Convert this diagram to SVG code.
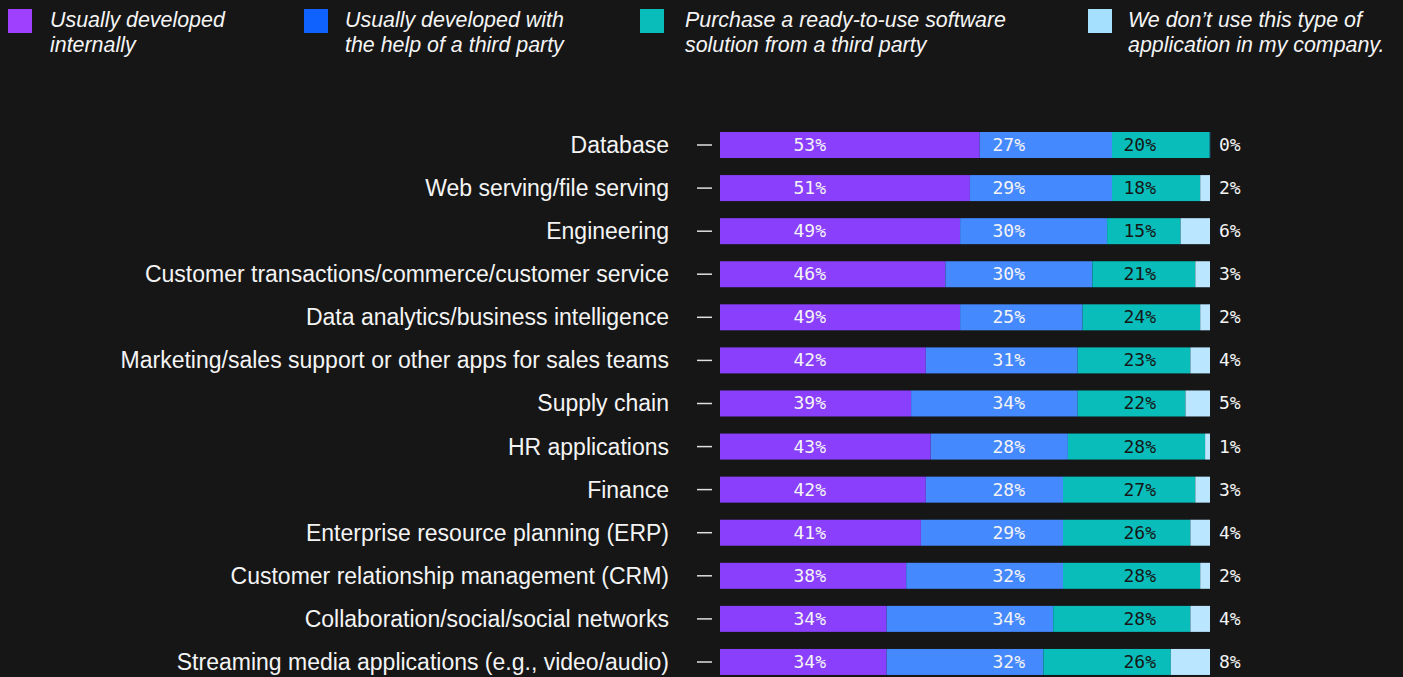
<svg xmlns="http://www.w3.org/2000/svg" width="1403" height="677" viewBox="0 0 1403 677">
<style>
.bg{fill:#161616}
.lg{font-family:"Liberation Sans",Arial,sans-serif;font-style:italic;font-size:21.4px;fill:#f4f4f4}
.lab{font-family:"Liberation Sans",Arial,sans-serif;font-size:23px;fill:#f4f4f4;text-anchor:end}
.v{font-family:"DejaVu Sans Mono",monospace;font-size:18px;fill:#f4f4f4;text-anchor:end}
.vd{font-family:"DejaVu Sans Mono",monospace;font-size:18px;fill:#161616;text-anchor:end}
.vr{font-family:"DejaVu Sans Mono",monospace;font-size:18px;fill:#f4f4f4}
.p{fill:#8a3ffc}.b{fill:#4589ff}.t{fill:#08bdba}.l{fill:#bae6ff}
.tick{stroke:#e0e0e0;stroke-width:1.5}
</style>
<rect class="bg" x="0" y="0" width="1403" height="677"/>
<g id="legend">
<g id="legend-internal"><rect x="8" y="9" width="24" height="24" fill="#a040ff"/><text class="lg" x="50" y="27">Usually developed</text><text class="lg" x="50" y="52">internally</text></g>
<g id="legend-thirdparty"><rect x="304" y="9" width="24" height="24" fill="#0f62fe"/><text class="lg" x="345" y="27">Usually developed with</text><text class="lg" x="345" y="52">the help of a third party</text></g>
<g id="legend-purchase"><rect x="640" y="9" width="24" height="24" fill="#08bdba"/><text class="lg" x="685" y="27">Purchase a ready-to-use software</text><text class="lg" x="685" y="52">solution from a third party</text></g>
<g id="legend-none"><rect x="1088" y="9" width="24" height="24" fill="#a6e0ff"/><text class="lg" x="1128" y="27">We don’t use this type of</text><text class="lg" x="1128" y="52">application in my company.</text></g>
</g>
<g id="connectors">
<line class="tick" x1="697" y1="145" x2="712" y2="145"/>
<line class="tick" x1="697" y1="188.1" x2="712" y2="188.1"/>
<line class="tick" x1="697" y1="231.2" x2="712" y2="231.2"/>
<line class="tick" x1="697" y1="274.2" x2="712" y2="274.2"/>
<line class="tick" x1="697" y1="317.3" x2="712" y2="317.3"/>
<line class="tick" x1="697" y1="360.4" x2="712" y2="360.4"/>
<line class="tick" x1="697" y1="403.5" x2="712" y2="403.5"/>
<line class="tick" x1="697" y1="446.6" x2="712" y2="446.6"/>
<line class="tick" x1="697" y1="489.6" x2="712" y2="489.6"/>
<line class="tick" x1="697" y1="532.7" x2="712" y2="532.7"/>
<line class="tick" x1="697" y1="575.8" x2="712" y2="575.8"/>
<line class="tick" x1="697" y1="618.9" x2="712" y2="618.9"/>
<line class="tick" x1="697" y1="662" x2="712" y2="662"/>
</g>
<g id="row-database" transform="translate(0,132)">
<text class="lab" x="669" y="21">Database</text>
<rect class="p" x="720" y="0" width="259.7" height="26"/><rect class="b" x="979.7" y="0" width="132.3" height="26"/><rect class="t" x="1112" y="0" width="98" height="26"/><rect x="1209.5" y="0" width="1" height="26" fill="#1c4a66"/>
<text class="v" x="826" y="19">53%</text><text class="v" x="1025" y="19">27%</text><text class="vd" x="1156" y="19">20%</text><text class="vr" x="1219" y="19">0%</text>
</g>
<g id="row-web" transform="translate(0,175.08)">
<text class="lab" x="669" y="21">Web serving/file serving</text>
<rect class="p" x="720" y="0" width="249.9" height="26"/><rect class="b" x="969.9" y="0" width="142.1" height="26"/><rect class="t" x="1112" y="0" width="88.2" height="26"/><rect class="l" x="1200.2" y="0" width="9.8" height="26"/>
<text class="v" x="826" y="19">51%</text><text class="v" x="1025" y="19">29%</text><text class="vd" x="1156" y="19">18%</text><text class="vr" x="1219" y="19">2%</text>
</g>
<g id="row-engineering" transform="translate(0,218.16)">
<text class="lab" x="669" y="21">Engineering</text>
<rect class="p" x="720" y="0" width="240.1" height="26"/><rect class="b" x="960.1" y="0" width="147" height="26"/><rect class="t" x="1107.1" y="0" width="73.5" height="26"/><rect class="l" x="1180.6" y="0" width="29.4" height="26"/>
<text class="v" x="826" y="19">49%</text><text class="v" x="1025" y="19">30%</text><text class="vd" x="1156" y="19">15%</text><text class="vr" x="1219" y="19">6%</text>
</g>
<g id="row-customer-transactions" transform="translate(0,261.24)">
<text class="lab" x="669" y="21">Customer transactions/commerce/customer service</text>
<rect class="p" x="720" y="0" width="225.4" height="26"/><rect class="b" x="945.4" y="0" width="147" height="26"/><rect class="t" x="1092.4" y="0" width="102.9" height="26"/><rect class="l" x="1195.3" y="0" width="14.7" height="26"/>
<text class="v" x="826" y="19">46%</text><text class="v" x="1025" y="19">30%</text><text class="vd" x="1156" y="19">21%</text><text class="vr" x="1219" y="19">3%</text>
</g>
<g id="row-data-analytics" transform="translate(0,304.32)">
<text class="lab" x="669" y="21">Data analytics/business intelligence</text>
<rect class="p" x="720" y="0" width="240.1" height="26"/><rect class="b" x="960.1" y="0" width="122.5" height="26"/><rect class="t" x="1082.6" y="0" width="117.6" height="26"/><rect class="l" x="1200.2" y="0" width="9.8" height="26"/>
<text class="v" x="826" y="19">49%</text><text class="v" x="1025" y="19">25%</text><text class="vd" x="1156" y="19">24%</text><text class="vr" x="1219" y="19">2%</text>
</g>
<g id="row-marketing" transform="translate(0,347.4)">
<text class="lab" x="669" y="21">Marketing/sales support or other apps for sales teams</text>
<rect class="p" x="720" y="0" width="205.8" height="26"/><rect class="b" x="925.8" y="0" width="151.9" height="26"/><rect class="t" x="1077.7" y="0" width="112.7" height="26"/><rect class="l" x="1190.4" y="0" width="19.6" height="26"/>
<text class="v" x="826" y="19">42%</text><text class="v" x="1025" y="19">31%</text><text class="vd" x="1156" y="19">23%</text><text class="vr" x="1219" y="19">4%</text>
</g>
<g id="row-supply-chain" transform="translate(0,390.48)">
<text class="lab" x="669" y="21">Supply chain</text>
<rect class="p" x="720" y="0" width="191.1" height="26"/><rect class="b" x="911.1" y="0" width="166.6" height="26"/><rect class="t" x="1077.7" y="0" width="107.8" height="26"/><rect class="l" x="1185.5" y="0" width="24.5" height="26"/>
<text class="v" x="826" y="19">39%</text><text class="v" x="1025" y="19">34%</text><text class="vd" x="1156" y="19">22%</text><text class="vr" x="1219" y="19">5%</text>
</g>
<g id="row-hr" transform="translate(0,433.56)">
<text class="lab" x="669" y="21">HR applications</text>
<rect class="p" x="720" y="0" width="210.7" height="26"/><rect class="b" x="930.7" y="0" width="137.2" height="26"/><rect class="t" x="1067.9" y="0" width="137.2" height="26"/><rect class="l" x="1205.1" y="0" width="4.9" height="26"/>
<text class="v" x="826" y="19">43%</text><text class="v" x="1025" y="19">28%</text><text class="vd" x="1156" y="19">28%</text><text class="vr" x="1219" y="19">1%</text>
</g>
<g id="row-finance" transform="translate(0,476.64)">
<text class="lab" x="669" y="21">Finance</text>
<rect class="p" x="720" y="0" width="205.8" height="26"/><rect class="b" x="925.8" y="0" width="137.2" height="26"/><rect class="t" x="1063" y="0" width="132.3" height="26"/><rect class="l" x="1195.3" y="0" width="14.7" height="26"/>
<text class="v" x="826" y="19">42%</text><text class="v" x="1025" y="19">28%</text><text class="vd" x="1156" y="19">27%</text><text class="vr" x="1219" y="19">3%</text>
</g>
<g id="row-erp" transform="translate(0,519.72)">
<text class="lab" x="669" y="21">Enterprise resource planning (ERP)</text>
<rect class="p" x="720" y="0" width="200.9" height="26"/><rect class="b" x="920.9" y="0" width="142.1" height="26"/><rect class="t" x="1063" y="0" width="127.4" height="26"/><rect class="l" x="1190.4" y="0" width="19.6" height="26"/>
<text class="v" x="826" y="19">41%</text><text class="v" x="1025" y="19">29%</text><text class="vd" x="1156" y="19">26%</text><text class="vr" x="1219" y="19">4%</text>
</g>
<g id="row-crm" transform="translate(0,562.8)">
<text class="lab" x="669" y="21">Customer relationship management (CRM)</text>
<rect class="p" x="720" y="0" width="186.2" height="26"/><rect class="b" x="906.2" y="0" width="156.8" height="26"/><rect class="t" x="1063" y="0" width="137.2" height="26"/><rect class="l" x="1200.2" y="0" width="9.8" height="26"/>
<text class="v" x="826" y="19">38%</text><text class="v" x="1025" y="19">32%</text><text class="vd" x="1156" y="19">28%</text><text class="vr" x="1219" y="19">2%</text>
</g>
<g id="row-collaboration" transform="translate(0,605.88)">
<text class="lab" x="669" y="21">Collaboration/social/social networks</text>
<rect class="p" x="720" y="0" width="166.6" height="26"/><rect class="b" x="886.6" y="0" width="166.6" height="26"/><rect class="t" x="1053.2" y="0" width="137.2" height="26"/><rect class="l" x="1190.4" y="0" width="19.6" height="26"/>
<text class="v" x="826" y="19">34%</text><text class="v" x="1025" y="19">34%</text><text class="vd" x="1156" y="19">28%</text><text class="vr" x="1219" y="19">4%</text>
</g>
<g id="row-streaming" transform="translate(0,648.96)">
<text class="lab" x="669" y="21">Streaming media applications (e.g., video/audio)</text>
<rect class="p" x="720" y="0" width="166.6" height="26"/><rect class="b" x="886.6" y="0" width="156.8" height="26"/><rect class="t" x="1043.4" y="0" width="127.4" height="26"/><rect class="l" x="1170.8" y="0" width="39.2" height="26"/>
<text class="v" x="826" y="19">34%</text><text class="v" x="1025" y="19">32%</text><text class="vd" x="1156" y="19">26%</text><text class="vr" x="1219" y="19">8%</text>
</g>
</svg>
